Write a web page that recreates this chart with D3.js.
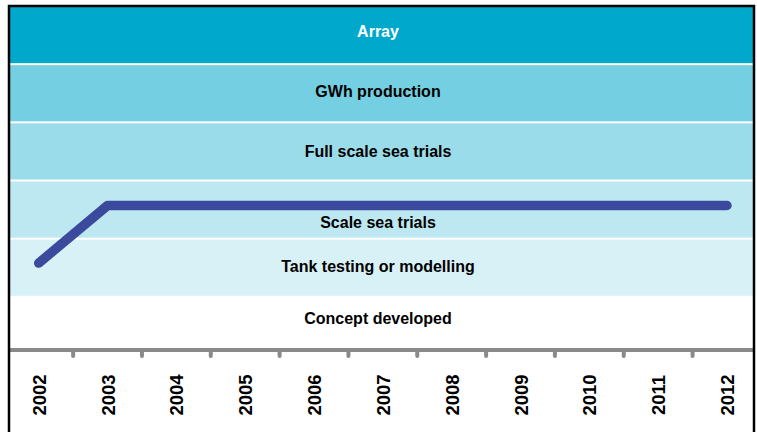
<!DOCTYPE html>
<html>
<head>
<meta charset="utf-8">
<script src="https://cdn.jsdelivr.net/npm/d3@7"></script>
<style>
  html, body { margin: 0; padding: 0; background: #fff; }
  svg { display: block; font-family: "Liberation Sans", Arial, Helvetica, sans-serif; }
</style>
</head>
<body>
<svg id="chart" width="757" height="432"></svg>
<script>
// Development stages, bottom to top
const stages = ["Concept developed", "Tank testing or modelling", "Scale sea trials",
                "Full scale sea trials", "GWh production", "Array"];
const stageColors = ["#ffffff", "#d8f1f7", "#bde8f1", "#9adcea", "#73cfe1", "#00a9cc"];
const stageLabelColors = ["#000", "#000", "#000", "#000", "#000", "#fff"];
// Label position inside each band (fraction of the band height from its bottom)
const stageLabelPos = [0.63, 0.52, 0.28, 0.5, 0.53, 0.56];

const years = ["2002", "2003", "2004", "2005", "2006", "2007", "2008", "2009", "2010", "2011", "2012"];
// Stage reached each year (0 = concept ... 5 = array)
const progress = [1.58, 2.57, 2.57, 2.57, 2.57, 2.57, 2.57, 2.57, 2.57, 2.57, 2.57];

const svg = d3.select("#chart");
const frame = { left: 9, right: 754, top: 6 };
const axisY = 350;

const x = d3.scaleBand().domain(years).range([4.3, 761.4]);
const y = d3.scaleLinear().domain([0, stages.length]).range([355, frame.top]);

// Stage bands
const bands = svg.append("g");
bands.selectAll("rect")
  .data(stages)
  .join("rect")
  .attr("x", frame.left)
  .attr("width", frame.right - frame.left)
  .attr("y", (d, i) => y(i + 1) + (i === stages.length - 1 ? 0 : 1))
  .attr("height", (d, i) => y(i) - y(i + 1) - (i === stages.length - 1 ? 1 : 2))
  .attr("fill", (d, i) => stageColors[i]);

// Stage labels
bands.selectAll("text")
  .data(stages)
  .join("text")
  .attr("x", 378)
  .attr("y", (d, i) => y(i + stageLabelPos[i]))
  .attr("dy", "0.35em")
  .attr("text-anchor", "middle")
  .attr("font-size", 16)
  .attr("font-weight", "bold")
  .attr("fill", (d, i) => stageLabelColors[i])
  .text(d => d);

// Progress line
const line = d3.line()
  .x((d, i) => x(years[i]) + x.bandwidth() / 2)
  .y(d => y(d));
svg.append("path")
  .datum(progress)
  .attr("d", line)
  .attr("fill", "none")
  .attr("stroke", "#3c4a9e")
  .attr("stroke-width", 9.5)
  .attr("stroke-linecap", "round")
  .attr("stroke-linejoin", "round");

// Axis line with ticks between years
const axis = svg.append("g").attr("stroke", "#8a8a8a");
axis.append("line")
  .attr("x1", frame.left).attr("x2", frame.right)
  .attr("y1", axisY).attr("y2", axisY)
  .attr("stroke-width", 4);
axis.selectAll("line.tick")
  .data(years.slice(1))
  .join("line")
  .attr("class", "tick")
  .attr("x1", d => x(d)).attr("x2", d => x(d))
  .attr("y1", axisY).attr("y2", axisY + 6)
  .attr("stroke-width", 4)
  .attr("stroke-linecap", "round");

// Year labels
svg.append("g").selectAll("text")
  .data(years)
  .join("text")
  .attr("transform", d => `translate(${x(d) + x.bandwidth() / 2 + 7},395) rotate(-90)`)
  .attr("text-anchor", "middle")
  .attr("font-size", 18.5)
  .attr("font-weight", "bold")
  .attr("fill", "#000")
  .text(d => d);

// Frame
svg.append("path")
  .attr("d", `M${frame.left},440 V${frame.top} H${frame.right} V440`)
  .attr("fill", "none")
  .attr("stroke", "#000")
  .attr("stroke-width", 2.5);
</script>
</body>
</html>
